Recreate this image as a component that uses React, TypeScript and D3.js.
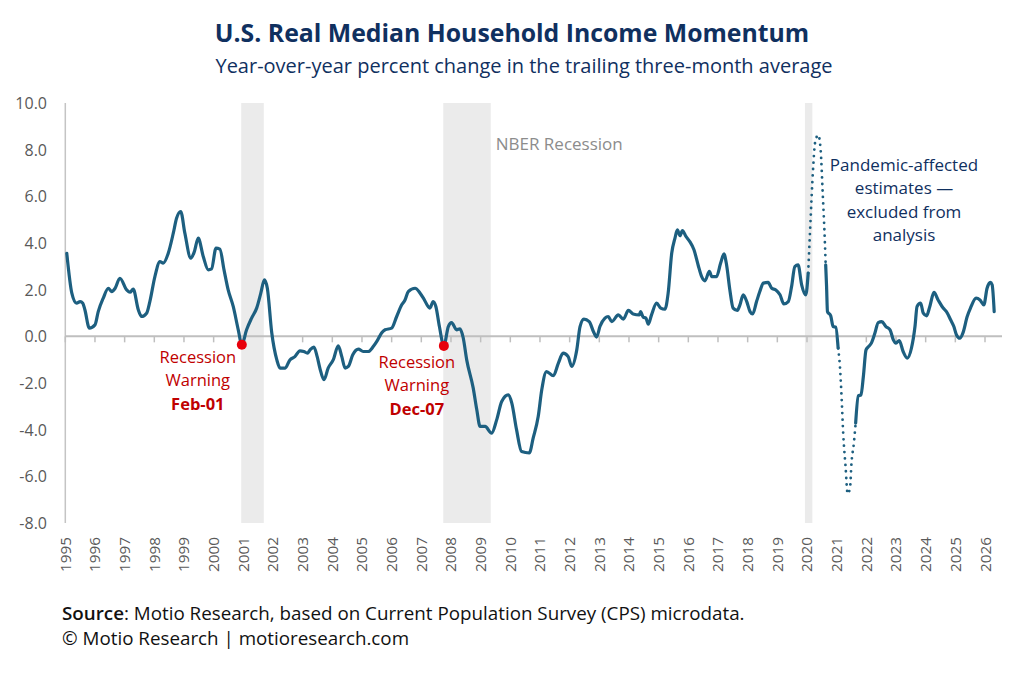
import * as d3 from "d3";

type Pt = [number, number]; // [decimal year, yoy %]

// solid line up to the pandemic
const seriesPre: Pt[] = [
  [1995.05, 3.56], [1995.22, 1.85], [1995.38, 1.42], [1995.5, 1.49], [1995.59, 1.42], [1995.66, 1.14],
  [1995.81, 0.35], [1996.0, 0.49], [1996.11, 1.06], [1996.28, 1.64], [1996.45, 2.06], [1996.56, 1.92],
  [1996.68, 2.06], [1996.84, 2.49], [1997.07, 1.99], [1997.18, 1.89], [1997.29, 2.02], [1997.46, 1.14],
  [1997.57, 0.85], [1997.74, 0.99], [1997.85, 1.49], [1998.02, 2.56], [1998.19, 3.2], [1998.3, 3.14],
  [1998.47, 3.56], [1998.64, 4.42], [1998.75, 5.06], [1998.89, 5.35], [1999.03, 4.42], [1999.23, 3.35],
  [1999.35, 3.63], [1999.48, 4.21], [1999.65, 3.42], [1999.82, 2.85], [1999.93, 2.89], [2000.08, 3.78],
  [2000.21, 3.74], [2000.35, 2.85], [2000.49, 1.99], [2000.66, 1.28], [2000.83, 0.28], [2000.95, -0.36],
  [2001.11, 0.28], [2001.28, 0.78], [2001.45, 1.21], [2001.59, 1.85], [2001.71, 2.42], [2001.81, 2.06],
  [2001.96, 0.14], [2002.13, -1.01], [2002.24, -1.36], [2002.41, -1.36], [2002.57, -1.01], [2002.74, -0.87],
  [2002.91, -0.62], [2003.04, -0.65], [2003.16, -0.72], [2003.25, -0.58], [2003.38, -0.46], [2003.49, -0.87],
  [2003.58, -1.36], [2003.72, -1.86], [2003.86, -1.36], [2004.03, -1.01], [2004.2, -0.41], [2004.32, -0.87],
  [2004.43, -1.36], [2004.54, -1.29], [2004.69, -0.79], [2004.88, -0.55], [2005.04, -0.65], [2005.21, -0.65],
  [2005.38, -0.44], [2005.5, -0.22], [2005.66, 0.14], [2005.78, 0.28], [2006.0, 0.35], [2006.17, 0.85],
  [2006.34, 1.35], [2006.45, 1.56], [2006.56, 1.92], [2006.79, 2.06], [2006.96, 1.85], [2007.07, 1.64],
  [2007.23, 1.28], [2007.29, 1.21], [2007.4, 1.49], [2007.49, 1.28], [2007.61, 0.42], [2007.76, -0.41],
  [2007.91, 0.42], [2008.02, 0.59], [2008.19, 0.28], [2008.3, 0.32], [2008.41, -0.05], [2008.53, -1.01],
  [2008.75, -2.22], [2008.87, -3.15], [2008.98, -3.86], [2009.15, -3.86], [2009.37, -4.15], [2009.54, -3.58],
  [2009.71, -2.79], [2009.93, -2.51], [2010.05, -2.86], [2010.21, -4.0], [2010.38, -4.94], [2010.64, -5.0],
  [2010.77, -4.36], [2010.94, -3.44], [2011.06, -2.29], [2011.22, -1.51], [2011.45, -1.69], [2011.62, -1.15],
  [2011.78, -0.72], [2011.95, -0.87], [2012.07, -1.29], [2012.24, -0.58], [2012.35, 0.42], [2012.48, 0.74],
  [2012.66, 0.63], [2012.8, 0.21], [2012.91, -0.03], [2013.02, 0.42], [2013.19, 0.78], [2013.3, 0.85],
  [2013.42, 0.63], [2013.64, 0.92], [2013.81, 0.74], [2013.98, 1.11], [2014.14, 0.96], [2014.35, 0.92],
  [2014.39, 1.06], [2014.48, 0.82], [2014.57, 0.78], [2014.65, 0.52], [2014.76, 0.92], [2014.93, 1.42],
  [2015.07, 1.21], [2015.21, 1.16], [2015.32, 1.85], [2015.44, 3.56], [2015.55, 4.21], [2015.63, 4.56],
  [2015.72, 4.31], [2015.8, 4.53], [2015.92, 4.28], [2016.05, 4.06], [2016.19, 3.71], [2016.33, 3.06],
  [2016.45, 2.56], [2016.56, 2.38], [2016.71, 2.78], [2016.79, 2.56], [2016.95, 2.56], [2017.09, 3.14],
  [2017.2, 3.53], [2017.29, 3.06], [2017.4, 1.99], [2017.51, 1.21], [2017.65, 1.11], [2017.74, 1.35],
  [2017.85, 1.78], [2017.97, 1.49], [2018.08, 1.06], [2018.17, 0.96], [2018.3, 1.49], [2018.41, 1.92],
  [2018.53, 2.28], [2018.69, 2.31], [2018.81, 2.06], [2018.95, 1.99], [2019.09, 1.78], [2019.22, 1.39],
  [2019.37, 1.49], [2019.48, 2.13], [2019.59, 2.99], [2019.7, 3.06], [2019.82, 2.21], [2019.96, 1.78],
  [2020.04, 2.71],
];

// dotted: pandemic spike
const pandemicSpike: Pt[] = [
  [2020.04, 2.71], [2020.1, 4.42], [2020.21, 7.27], [2020.27, 8.28], [2020.38, 8.63], [2020.46, 7.99],
  [2020.53, 6.13], [2020.6, 4.13], [2020.63, 3.06],
];

const seriesMid: Pt[] = [
  [2020.63, 3.06], [2020.66, 2.13], [2020.69, 1.06], [2020.8, 0.88], [2020.88, 0.42], [2020.97, 0.39],
  [2021.05, -0.51],
];

// dotted: pandemic dip
const pandemicDip: Pt[] = [
  [2021.05, -0.51], [2021.11, -1.29], [2021.17, -2.72], [2021.22, -4.15], [2021.3, -5.58], [2021.37, -6.75],
  [2021.45, -6.5], [2021.5, -5.43], [2021.58, -4.58], [2021.64, -3.72],
];

const seriesPost: Pt[] = [
  [2021.64, -3.72], [2021.73, -2.55], [2021.82, -2.51], [2021.9, -1.72], [2021.99, -0.58], [2022.06, -0.46],
  [2022.17, -0.29], [2022.29, 0.14], [2022.4, 0.59], [2022.52, 0.63], [2022.66, 0.42], [2022.8, 0.28],
  [2022.91, -0.15], [2023.0, -0.29], [2023.11, -0.18], [2023.24, -0.65], [2023.38, -0.93], [2023.52, -0.51],
  [2023.64, 0.42], [2023.71, 1.28], [2023.83, 1.42], [2023.92, 0.99], [2024.03, 0.88], [2024.14, 1.28],
  [2024.28, 1.88], [2024.42, 1.56], [2024.59, 1.21], [2024.7, 1.06], [2024.84, 0.71], [2024.95, 0.42],
  [2025.04, 0.06], [2025.15, -0.08], [2025.26, 0.16], [2025.4, 0.85], [2025.51, 1.21], [2025.7, 1.64],
  [2025.83, 1.56], [2025.96, 1.35], [2026.07, 2.06], [2026.18, 2.31], [2026.24, 2.21], [2026.31, 1.06],
];

const recessions: [number, number][] = [
  [2000.93, 2001.69],
  [2007.74, 2009.34],
  [2019.93, 2020.18],
];

const warningDates = [2000.95, 2007.76];
const warningValues = [-0.36, -0.41];
const warningLabels = ["Feb-01", "Dec-07"];

const yTicks = [10, 8, 6, 4, 2, 0, -2, -4, -6, -8];
const yearTicks = d3.range(1995, 2027);

const pandemicNote = ["Pandemic-affected", "estimates —", "excluded from", "analysis"];

const FONT = "'Open Sans', 'Noto Sans', sans-serif";
const NAVY = "#10305f";
const LINE = "#1d5f80";
const RED = "#c00000";

export default function App() {
  const width = 1024;
  const height = 683;

  const x = d3.scaleLinear().domain([1995, 2026]).range([65.3, 985]);
  const y = d3.scaleLinear().domain([-8, 10]).range([523, 103]);

  const line = d3
    .line<Pt>()
    .x((d) => x(d[0]))
    .y((d) => y(d[1]))
    .curve(d3.curveMonotoneX);

  // label placement relative to each warning dot
  const warnOffsets = [
    { dx: -44, dy: 18 },
    { dx: -27, dy: 22 },
  ];

  return (
    <div style={{ position: "absolute", left: 0, top: 0 }}>
      <svg width={width} height={height} style={{ display: "block", background: "#fff" }} fontFamily={FONT}>
        {/* titles */}
        <text x={512} y={42} textAnchor="middle" fontSize={24.8} fontWeight={700} fill={NAVY}>
          U.S. Real Median Household Income Momentum
        </text>
        <text x={524} y={73} textAnchor="middle" fontSize={20} fill={NAVY}>
          Year-over-year percent change in the trailing three-month average
        </text>

        {/* recession shading */}
        {recessions.map(([a, b], i) => (
          <rect key={`r-${i}`} x={x(a)} y={y(10)} width={x(b) - x(a)} height={y(-8) - y(10)} fill="#ebebeb" />
        ))}
        <text x={x(2009.34) + 5} y={150} fontSize={17} fill="#8c8c8c">
          NBER Recession
        </text>

        {/* y axis */}
        <line x1={x(1995)} x2={x(1995)} y1={y(10)} y2={y(-8)} stroke="#c4c4c4" strokeWidth={1.5} />
        {yTicks.map((t) => (
          <text key={`yt-${t}`} x={47} y={y(t) + 6} textAnchor="end" fontSize={16} fill="#595959">
            {t.toFixed(1)}
          </text>
        ))}

        {/* zero line with year ticks */}
        <line x1={x(1995)} x2={1002} y1={y(0)} y2={y(0)} stroke="#bfbfbf" strokeWidth={2} />
        {yearTicks.map((t) => (
          <line key={`xt-${t}`} x1={x(t)} x2={x(t)} y1={y(0)} y2={y(0) + 6} stroke="#bfbfbf" strokeWidth={1.5} />
        ))}
        {yearTicks.map((t) => (
          <text
            key={`xl-${t}`}
            transform={`translate(${x(t) + 5.5},${537}) rotate(-90)`}
            textAnchor="end"
            fontSize={15.3}
            fill="#595959"
          >
            {t}
          </text>
        ))}

        {/* series */}
        {[seriesPre, seriesMid, seriesPost].map((s, i) => (
          <path
            key={`s-${i}`}
            d={line(s) ?? ""}
            fill="none"
            stroke={LINE}
            strokeWidth={3.2}
            strokeLinejoin="round"
            strokeLinecap="round"
          />
        ))}
        {[pandemicSpike, pandemicDip].map((s, i) => (
          <path
            key={`p-${i}`}
            d={line(s) ?? ""}
            fill="none"
            stroke={LINE}
            strokeWidth={2.8}
            strokeDasharray="0 6.5"
            strokeLinecap="round"
          />
        ))}

        {/* recession warnings */}
        {warningDates.map((d, i) => {
          const cx = x(d);
          const cy = y(warningValues[i]);
          const tx = cx + warnOffsets[i].dx;
          const ty = cy + warnOffsets[i].dy;
          return (
            <g key={`w-${i}`}>
              <circle cx={cx} cy={cy} r={5} fill="#e8000b" />
              <text x={tx} y={ty} textAnchor="middle" fontSize={16.5} fill={RED}>
                Recession
              </text>
              <text x={tx} y={ty + 23.5} textAnchor="middle" fontSize={16.5} fill={RED}>
                Warning
              </text>
              <text x={tx} y={ty + 47} textAnchor="middle" fontSize={16.5} fontWeight={700} fill={RED}>
                {warningLabels[i]}
              </text>
            </g>
          );
        })}

        {/* pandemic note */}
        {pandemicNote.map((s, i) => (
          <text key={`pn-${i}`} x={904} y={171 + i * 23.3} textAnchor="middle" fontSize={17} fill={NAVY}>
            {s}
          </text>
        ))}

        {/* footer */}
        <text x={62} y={620} fontSize={18.8} fill="#111">
          <tspan fontWeight={600}>Source</tspan>: Motio Research, based on Current Population Survey (CPS) microdata.
        </text>
        <text x={62} y={645} fontSize={18.8} fill="#111">
          © Motio Research | motioresearch.com
        </text>
      </svg>
    </div>
  );
}
